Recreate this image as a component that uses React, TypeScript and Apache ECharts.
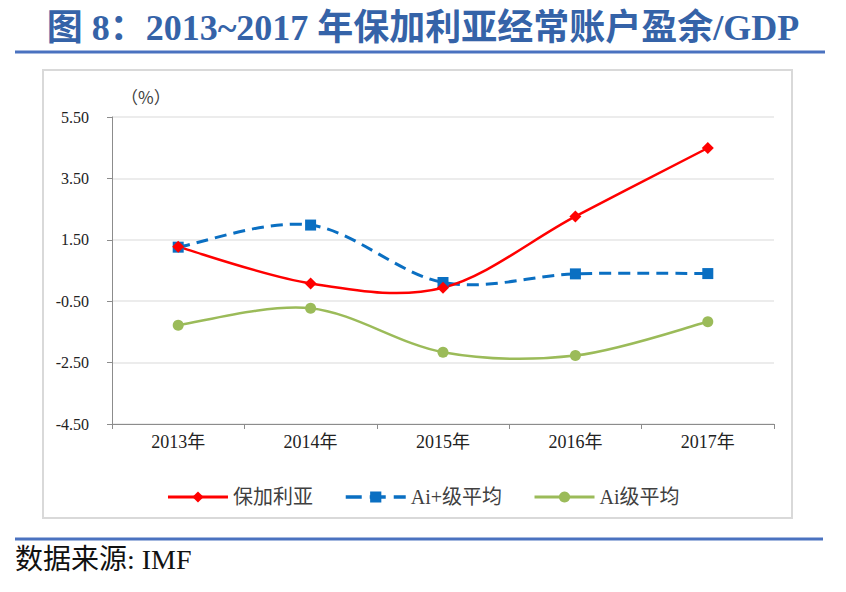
import React, { useEffect, useRef } from "react";
import * as echarts from "echarts";

const categories = ["2013年", "2014年", "2015年", "2016年", "2017年"];
const bulgaria = [1.27, 0.08, -0.06, 2.26, 4.49];
const aiPlusAvg = [1.26, 1.98, 0.11, 0.39, 0.4];
const aiAvg = [-1.28, -0.73, -2.16, -2.27, -1.17];
const seriesNames = ["保加利亚", "Ai+级平均", "Ai级平均"];

const titleText = "图 8：2013~2017 年保加利亚经常账户盈余/GDP";
const sourceText = "数据来源: IMF";
const unitText = "（%）";

const RED = "#ff0000";
const BLUE = "#0a6fc2";
const GREEN = "#9bbb59";

function curveSeries(name: string, values: number[], color: string, width: number, dash: number[] | null, z: number) {
  return {
    name,
    type: "custom",
    data: values.map((v, i) => [i, v]),
    encode: { x: 0, y: 1 },
    silent: true,
    z,
    renderItem: (params: any, api: any) => {
      if (params.dataIndex !== 0) return null;
      const pts = values.map((v, i) => api.coord([i, v]));
      const n = pts.length;
      let d = `M${pts[0][0]},${pts[0][1]}`;
      for (let i = 0; i < n - 1; i++) {
        const p0 = pts[Math.max(i - 1, 0)];
        const p1 = pts[i];
        const p2 = pts[i + 1];
        const p3 = pts[Math.min(i + 2, n - 1)];
        const c1x = p1[0] + (p2[0] - p0[0]) / 6;
        const c1y = p1[1] + (p2[1] - p0[1]) / 6;
        const c2x = p2[0] - (p3[0] - p1[0]) / 6;
        const c2y = p2[1] - (p3[1] - p1[1]) / 6;
        d += ` C${c1x},${c1y} ${c2x},${c2y} ${p2[0]},${p2[1]}`;
      }
      return {
        type: "path",
        shape: { pathData: d },
        style: {
          fill: "none",
          stroke: color,
          lineWidth: width,
          lineDash: dash || undefined,
        },
      };
    },
  };
}

function markerSeries(name: string, values: number[], color: string, symbol: string, size: number, z: number) {
  return {
    name,
    type: "line",
    data: values,
    symbol,
    symbolSize: size,
    showSymbol: true,
    itemStyle: { color },
    lineStyle: { color, opacity: 0 },
    z,
  };
}

export default function App() {
  const ref = useRef<HTMLDivElement>(null);
  useEffect(() => {
    if (!ref.current) return;
    const chart = echarts.init(ref.current, null, { renderer: "svg" });
    const serif = '"Liberation Serif", "Times New Roman", "Noto Sans CJK SC", serif';
    chart.setOption({
      animation: false,
      backgroundColor: "#ffffff",
      title: {
        text: titleText,
        left: "center",
        top: 5,
        textStyle: {
          fontFamily: serif,
          fontWeight: "bold",
          fontSize: 36,
          color: "#3563a8",
        },
      },
      graphic: [
        {
          type: "line",
          shape: { x1: 15, y1: 52, x2: 825, y2: 52 },
          style: { stroke: "#4a72c0", lineWidth: 3 },
        },
        {
          type: "rect",
          shape: { x: 43, y: 70, width: 749, height: 448 },
          style: { fill: "none", stroke: "#d9d9d9", lineWidth: 2 },
        },
        {
          type: "text",
          x: 121,
          y: 88,
          style: {
            text: unitText,
            fontFamily: '"Noto Sans CJK SC", sans-serif',
            fontSize: 17,
            fill: "#404040",
          },
        },
        {
          type: "line",
          shape: { x1: 15, y1: 539, x2: 823, y2: 539 },
          style: { stroke: "#4a72c0", lineWidth: 3 },
        },
        {
          type: "text",
          x: 15,
          y: 545,
          style: {
            text: sourceText,
            fontFamily: serif,
            fontSize: 28,
            fill: "#111111",
          },
        },
      ],
      legend: {
        top: 482,
        left: "center",
        itemWidth: 60,
        itemHeight: 14,
        itemGap: 31,
        textStyle: { fontFamily: serif, fontSize: 20, color: "#404040" },
        data: [
          { name: seriesNames[0], lineStyle: { color: RED, width: 3, opacity: 1, type: "solid" } },
          { name: seriesNames[1], lineStyle: { color: BLUE, width: 3.5, opacity: 1, type: [16, 8] } },
          { name: seriesNames[2], lineStyle: { color: GREEN, width: 3, opacity: 1, type: "solid" } },
        ],
      },
      grid: { left: 112, right: 72, top: 117, bottom: 168 },
      xAxis: {
        type: "category",
        data: categories,
        boundaryGap: true,
        axisLine: { onZero: false, lineStyle: { color: "#8c8c8c", width: 1 } },
        axisTick: { show: true, length: 5, lineStyle: { color: "#8c8c8c" } },
        axisLabel: {
          fontFamily: serif,
          fontSize: 18,
          color: "#222222",
          margin: 9,
        },
      },
      yAxis: {
        type: "value",
        min: -4.5,
        max: 5.5,
        interval: 2,
        axisLine: { show: true, lineStyle: { color: "#8c8c8c", width: 1 } },
        axisTick: { show: true, length: 5, lineStyle: { color: "#8c8c8c" } },
        splitLine: { show: true, lineStyle: { color: "#e6e6e6", width: 1.5 } },
        axisLabel: {
          fontFamily: serif,
          fontSize: 16,
          color: "#222222",
          margin: 23,
          formatter: (v: number) => v.toFixed(2),
        },
      },
      series: [
        markerSeries(seriesNames[0], bulgaria, RED, "diamond", 12, 6),
        markerSeries(seriesNames[1], aiPlusAvg, BLUE, "rect", 11, 5),
        markerSeries(seriesNames[2], aiAvg, GREEN, "circle", 11, 4),
        curveSeries(seriesNames[0], bulgaria, RED, 2.5, null, 3),
        curveSeries(seriesNames[1], aiPlusAvg, BLUE, 3, [12, 7], 2),
        curveSeries(seriesNames[2], aiAvg, GREEN, 2.5, null, 1),
      ],
    });
    return () => chart.dispose();
  }, []);
  return (
    <div
      ref={ref}
      style={{ position: "fixed", left: 0, top: 0, width: 846, height: 592 }}
    />
  );
}
